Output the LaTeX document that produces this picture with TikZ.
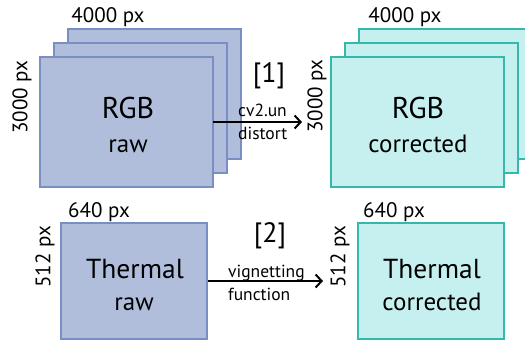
\documentclass[tikz,border=0pt]{standalone}
\usepackage{fontspec}
\setmainfont{PT Sans}
\usetikzlibrary{arrows.meta}
\definecolor{rawfill}{RGB}{176,190,220}
\definecolor{rawline}{RGB}{122,142,196}
\definecolor{corfill}{RGB}{198,240,240}
\definecolor{corline}{RGB}{52,184,172}
\tikzset{
  rawbox/.style={draw=rawline, fill=rawfill, line width=2pt},
  corbox/.style={draw=corline, fill=corfill, line width=2pt},
  dimlabel/.style={inner sep=0pt, font=\fontsize{21}{21}\selectfont},
  bigtxt/.style={inner sep=0pt, anchor=base, font=\fontsize{30}{30}\selectfont},
  thermtxt/.style={inner sep=0pt, anchor=base, font=\fontsize{27.5}{27.5}\selectfont},
  subtxt/.style={inner sep=0pt, anchor=base, font=\fontsize{25}{25}\selectfont},
  arrlabel/.style={inner sep=0pt, anchor=base west, font=\fontsize{17.5}{17.5}\selectfont},
  reftxt/.style={inner sep=0pt, font=\fontsize{28}{28}\selectfont},
  conn/.style={line width=2pt, -{Straight Barb[length=6pt,width=13pt,line width=2pt]}}
}
\begin{document}
\begin{tikzpicture}[x=1pt,y=-1pt]
\useasboundingbox (0,0) rectangle (525,342);
\clip (0,0) rectangle (525,342);
% left RGB stack
\draw[rawbox] (68,29) rectangle (241,159);
\draw[rawbox] (54,43) rectangle (227,173);
\draw[rawbox] (40,57) rectangle (213,187);
\node[draw=none, minimum width=173pt, minimum height=130pt, inner sep=0pt] (rgbraw) at (126.5,122) {};
% right RGB stack
\draw[corbox] (359,29) rectangle (532,159);
\draw[corbox] (345,43) rectangle (518,173);
\draw[corbox] (331,57) rectangle (504,187);
\node[draw=none, minimum width=173pt, minimum height=130pt, inner sep=0pt] (rgbcor) at (417.5,122) {};
% thermal boxes
\node[rawbox, minimum width=146pt, minimum height=116pt, inner sep=0pt] (thraw) at (134,281) {};
\node[corbox, minimum width=146pt, minimum height=116pt, inner sep=0pt] (thcor) at (431,281) {};
% texts in boxes
\node[bigtxt] (t1) at (128,119) {RGB};
\node[subtxt] (t2) at (128,153) {raw};
\node[bigtxt] (t3) at (418,119) {RGB};
\node[subtxt] (t4) at (418,153) {corrected};
\node[thermtxt] (t5) at (135,278) {Thermal};
\node[subtxt] (t6) at (134,310) {raw};
\node[thermtxt] (t7) at (432,278) {Thermal};
\node[subtxt] (t8) at (432,310) {corrected};
% dimension labels
\node[dimlabel, anchor=base] (d1) at (108,23) {4000 px};
\node[dimlabel, anchor=base] (d2) at (405,23) {4000 px};
\node[dimlabel, rotate=90] (d3) at (22,97) {3000 px};
\node[dimlabel, rotate=90] (d4) at (317,96) {3000 px};
\node[dimlabel, anchor=base] (d5) at (99,218) {640 px};
\node[dimlabel, anchor=base] (d6) at (394,218) {640 px};
\node[dimlabel, rotate=90] (d7) at (45,257) {512 px};
\node[dimlabel, rotate=90] (d8) at (340,257) {512 px};
% arrows
\coordinate (e1) at (302,122);
\coordinate (e2) at (323,281);
\draw[conn] (rgbraw.east) -- (e1);
\draw[conn] (thraw.east) -- (e2);
\node[arrlabel] (l1) at (238,117) {cv2.un};
\node[arrlabel] (l2) at (238,140) {distort};
\node[arrlabel] (l3) at (228,277) {vignetting};
\node[arrlabel] (l4) at (228,300) {function};
\node[reftxt] (r1) at (269,76) {[1]};
\node[reftxt] (r2) at (270,236) {[2]};
\end{tikzpicture}
\end{document}
